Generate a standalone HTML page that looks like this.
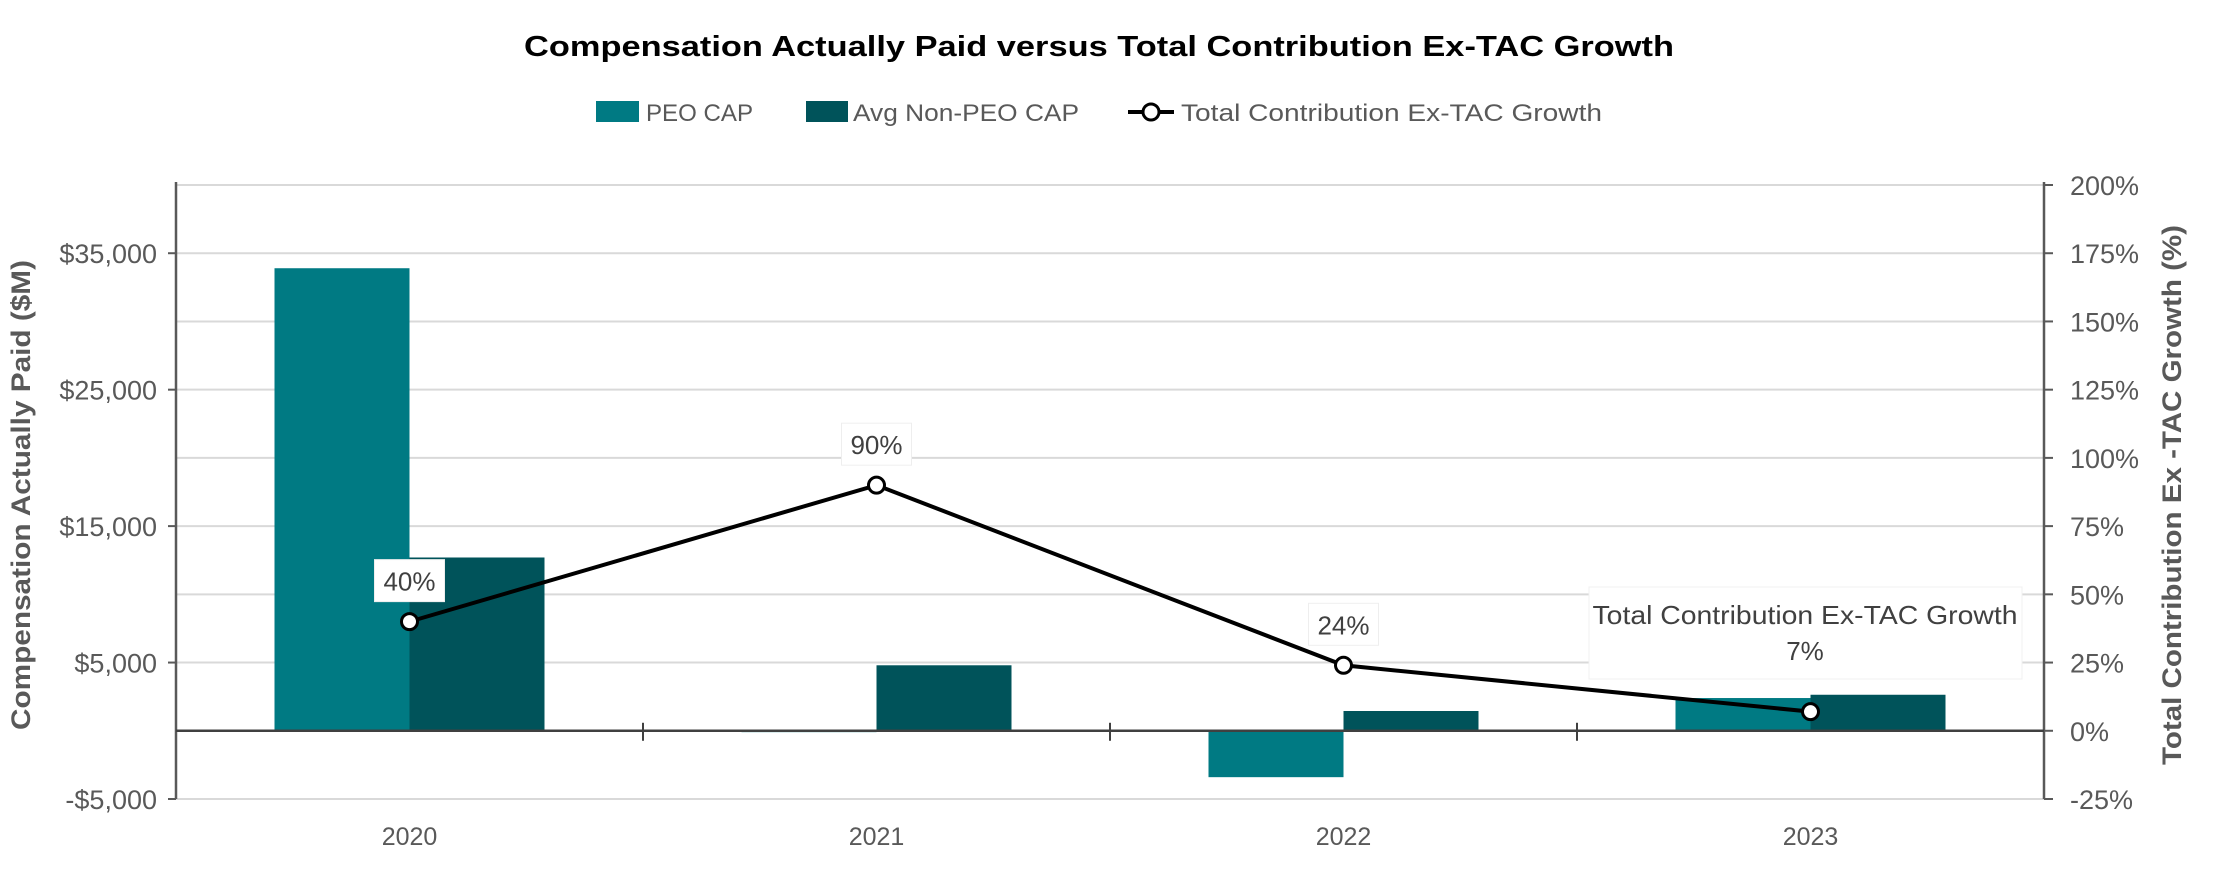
<!DOCTYPE html>
<html><head><meta charset="utf-8"><style>
html,body{margin:0;padding:0;background:#fff;}
svg{display:block;font-family:"Liberation Sans",sans-serif;}
</style></head><body>
<svg id="chart" width="2220" height="871" viewBox="0 0 2220 871" xmlns="http://www.w3.org/2000/svg">
<text x="1099" y="56" text-anchor="middle" font-size="29" font-weight="bold" fill="#000" textLength="1150" lengthAdjust="spacingAndGlyphs">Compensation Actually Paid versus Total Contribution Ex-TAC Growth</text>
<g>
 <rect x="596" y="101" width="43" height="21" fill="#007A83"/>
 <text x="646" y="121" font-size="24" fill="#595959" textLength="107" lengthAdjust="spacingAndGlyphs">PEO CAP</text>
 <rect x="806" y="101" width="42" height="21" fill="#00535A"/>
 <text x="853" y="121" font-size="24" fill="#595959" textLength="226" lengthAdjust="spacingAndGlyphs">Avg Non-PEO CAP</text>
 <line x1="1128" y1="112" x2="1174" y2="112" stroke="#000" stroke-width="4"/>
 <circle cx="1151" cy="112" r="8" fill="#fff" stroke="#000" stroke-width="3"/>
 <text x="1181" y="121" font-size="24" fill="#595959" textLength="421" lengthAdjust="spacingAndGlyphs">Total Contribution Ex-TAC Growth</text>
</g>
<g id="grid"></g>
<g id="bars"></g>
<g id="axes"></g>
<g id="line"></g>
<text transform="translate(30,495) rotate(-90)" text-anchor="middle" font-size="27" font-weight="bold" fill="#595959" textLength="470" lengthAdjust="spacingAndGlyphs">Compensation Actually Paid ($M)</text>
<text transform="translate(2181,495) rotate(-90)" text-anchor="middle" font-size="27" font-weight="bold" fill="#595959" textLength="540" lengthAdjust="spacingAndGlyphs">Total Contribution Ex -TAC Growth (%)</text>
</svg>
<script>
const categories = ["2020","2021","2022","2023"];
const peoCap = [33900, -100, -3400, 2400];
const avgCap = [12700, 4800, 1450, 2640];
const growth = [40, 90, 24, 7];
const leftTicks = [-5000, 5000, 15000, 25000, 35000];
const leftTickLabels = ["-$5,000","$5,000","$15,000","$25,000","$35,000"];
const rightTicks = [-25,0,25,50,75,100,125,150,175,200];
const rightTickLabels = ["-25%","0%","25%","50%","75%","100%","125%","150%","175%","200%"];

const NS="http://www.w3.org/2000/svg";
const X0=176, X1=2044, YT=185, YB=799;
const yL=v=>YB-(v+5000)/45000*(YB-YT);
const yR=v=>YB-(v+25)/225*(YB-YT);
const bw=(X1-X0)/categories.length;
const xc=i=>X0+bw*(i+0.5);
function mk(tag,attrs,parent){const e=document.createElementNS(NS,tag);for(const k in attrs)e.setAttribute(k,attrs[k]);parent.appendChild(e);return e;}
const grid=document.getElementById('grid'),bars=document.getElementById('bars'),axes=document.getElementById('axes'),line=document.getElementById('line');

for(let v=-5000;v<=40000;v+=5000){
 const g=mk('line',{x1:X0,x2:X1,y1:yL(v),y2:yL(v),stroke:'#d9d9d9','stroke-width':2},grid);
 
 
}
const barW=135;
categories.forEach((c,i)=>{
 const p=mk('rect',{x:xc(i)-barW,y:Math.min(yL(0),yL(peoCap[i])),width:barW,height:Math.abs(yL(peoCap[i])-yL(0)),fill:'#007A83'},bars);
 
 
 const a=mk('rect',{x:xc(i),y:Math.min(yL(0),yL(avgCap[i])),width:barW,height:Math.abs(yL(avgCap[i])-yL(0)),fill:'#00535A'},bars);
 
 
 const t=mk('text',{x:xc(i),y:845,'text-anchor':'middle','font-size':25,fill:'#595959'},axes);
 t.textContent=c;
 
 
});
mk('line',{x1:X0,x2:X0,y1:YT-3,y2:YB,stroke:'#595959','stroke-width':2.5},axes);
mk('line',{x1:X1,x2:X1,y1:YT-3,y2:YB,stroke:'#595959','stroke-width':2.5},axes);
mk('line',{x1:X0,x2:X1,y1:yL(0),y2:yL(0),stroke:'#404040','stroke-width':2.5},axes);
for(let i=1;i<categories.length;i++){mk('line',{x1:X0+bw*i,x2:X0+bw*i,y1:yL(0)-8,y2:yL(0)+10,stroke:'#404040','stroke-width':2},axes);}
leftTicks.forEach((v,i)=>{
 mk('line',{x1:X0-8,x2:X0,y1:yL(v),y2:yL(v),stroke:'#595959','stroke-width':2},axes);
 const t=mk('text',{x:157,y:yL(v)+10,'text-anchor':'end','font-size':27,fill:'#595959'},axes);
 t.textContent=leftTickLabels[i];
 
 
});
rightTicks.forEach((v,i)=>{
 mk('line',{x1:X1,x2:X1+9,y1:yR(v),y2:yR(v),stroke:'#595959','stroke-width':2},axes);
 const t=mk('text',{x:2070,y:yR(v)+10,'font-size':27,fill:'#595959'},axes);
 t.textContent=rightTickLabels[i];
 
 
});
const pl=mk('polyline',{points:growth.map((v,i)=>xc(i)+','+yR(v)).join(' '),fill:'none',stroke:'#000','stroke-width':4},line);


growth.forEach((v,i)=>{
 const m=mk('circle',{cx:xc(i),cy:yR(v),r:8,fill:'#fff',stroke:'#000','stroke-width':3},line);
 
 
 if(i<growth.length-1){
  mk('rect',{x:xc(i)-35,y:yR(v)-62,width:70,height:42,fill:'#fff',stroke:'#eeeeee','stroke-width':1},line);
  const t=mk('text',{x:xc(i),y:yR(v)-31,'text-anchor':'middle','font-size':26,fill:'#404040'},line);
  t.textContent=v+'%';
  
  
 } else {
  mk('rect',{x:1589,y:587,width:433,height:92,fill:'#fff',stroke:'#f0f0f0','stroke-width':1},line);
  const t1=mk('text',{x:1805,y:624,'text-anchor':'middle','font-size':26,fill:'#404040',textLength:425,lengthAdjust:'spacingAndGlyphs'},line);
  t1.textContent='Total Contribution Ex-TAC Growth';
  
  
  const t2=mk('text',{x:1805,y:660,'text-anchor':'middle','font-size':26,fill:'#404040'},line);
  t2.textContent=v+'%';
  
  
 }
});
</script>
</body></html>
